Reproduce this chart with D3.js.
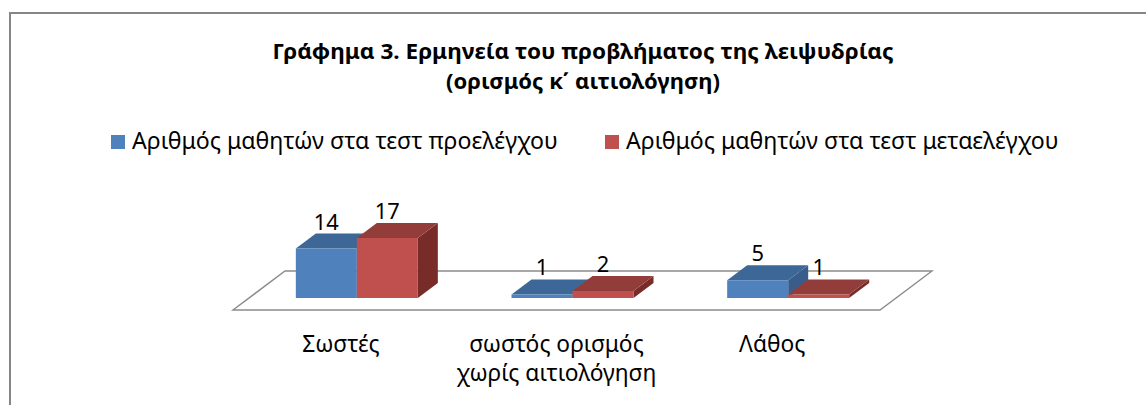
<!DOCTYPE html>
<html><head><meta charset="utf-8">
<script src="https://cdn.jsdelivr.net/npm/d3@7"></script>
<style>body{margin:0;background:#fff} svg{display:block}</style>
</head><body><svg id="c" width="1146" height="405"></svg>
<script>
// ---- data ----
const categories = ["Σωστές", "σωστός ορισμός\nχωρίς αιτιολόγηση", "Λάθος"];
const seriesNames = ["Αριθμός μαθητών στα τεστ προελέγχου", "Αριθμός μαθητών στα τεστ μεταελέγχου"];
const preTest = [14, 1, 5];
const postTest = [17, 2, 1];
const titleLines = ["Γράφημα 3. Ερμηνεία του προβλήματος της λειψυδρίας", "(ορισμός κ΄ αιτιολόγηση)"];

// ---- styles ----
const palette = [
  {front: "#4F81BD", top: "#3D6796", side: "#385D8A"},
  {front: "#C0504D", top: "#933D3B", side: "#772C2A"}
];
const FONT = "'Noto Sans', 'DejaVu Sans', sans-serif";
const svg = d3.select("#c");

function fitSize(text, target, weight) {
  const t = svg.append("text").attr("font-family", FONT).attr("font-weight", weight || "normal")
    .style("font-size", "100px").text(text);
  const w = t.node().getComputedTextLength();
  t.remove();
  return 100 * target / w;
}

// chart border
svg.append("rect").attr("x", 10).attr("y", 13).attr("width", 1160).attr("height", 420)
  .attr("fill", "#fff").attr("stroke", "#868686").attr("stroke-width", 2);

// title
const titleW = [621, 274], titleY = [59, 89];
svg.selectAll("text.title").data(titleLines).join("text").attr("class", "title")
  .attr("x", 583).attr("y", (d, i) => titleY[i])
  .attr("text-anchor", "middle").attr("font-family", FONT).attr("font-weight", "bold")
  .style("font-size", "21.5px").attr("fill", "#000")
  .attr("textLength", (d, i) => titleW[i]).attr("lengthAdjust", "spacingAndGlyphs")
  .text(d => d);

// legend
const legSize = fitSize(seriesNames[0], 426);
const legX = [111, 605];
const leg = svg.selectAll("g.leg").data(seriesNames).join("g").attr("class", "leg")
  .attr("transform", (d, i) => `translate(${legX[i]},0)`);
leg.append("rect").attr("x", 0).attr("y", 135).attr("width", 14).attr("height", 14)
  .attr("fill", (d, i) => palette[i].front);
leg.append("text").attr("x", 21).attr("y", 148.5).attr("font-family", FONT)
  .style("font-size", legSize + "px").attr("fill", "#000").text(d => d);

// ---- 3D geometry ----
const frontY = 310, floorDepth = 39, skew = 52 / 39;
const zFront = 12, zBack = 27;
const x = d3.scaleBand().domain(categories).range([233, 880]);
const groupW = 122;
const inner = d3.scaleBand().domain([0, 1]).range([0, groupW]);
const h = d3.scaleLinear().domain([0, 17]).range([0, 60]);
const proj = (px, z, ht) => [px + z * skew, frontY - z - ht];
const pts = arr => arr.map(p => proj(...p).join(",")).join(" ");

// floor
const [fx0, fx1] = x.range();
svg.append("polygon")
  .attr("points", pts([[fx0, 0, 0], [fx1, 0, 0], [fx1, floorDepth, 0], [fx0, floorDepth, 0]]))
  .attr("fill", "none").attr("stroke", "#8C8C8C").attr("stroke-width", 1.4);

// bars
const series = [preTest, postTest];
const bars = [];
categories.forEach((c, ci) => {
  series.forEach((vals, si) => {
    const x0 = x(c) + (x.bandwidth() - groupW) / 2 + inner(si);
    bars.push({x0, x1: x0 + inner.bandwidth(), v: vals[ci], si});
  });
});
bars.forEach(b => {
  const ht = h(b.v);
  const g = svg.append("g");
  g.append("polygon").attr("points", pts([[b.x1, zFront, 0], [b.x1, zBack, 0], [b.x1, zBack, ht], [b.x1, zFront, ht]]))
    .attr("fill", palette[b.si].side);
  g.append("polygon").attr("points", pts([[b.x0, zFront, ht], [b.x1, zFront, ht], [b.x1, zBack, ht], [b.x0, zBack, ht]]))
    .attr("fill", palette[b.si].top);
  g.append("polygon").attr("points", pts([[b.x0, zFront, 0], [b.x1, zFront, 0], [b.x1, zFront, ht], [b.x0, zFront, ht]]))
    .attr("fill", palette[b.si].front);
});

// data labels
const lblSize = fitSize("14", 25);
svg.selectAll("text.val").data(bars).join("text").attr("class", "val")
  .attr("x", b => proj((b.x0 + b.x1) / 2, zFront, 0)[0])
  .attr("y", b => proj(b.x0, zBack, h(b.v))[1] - 4)
  .attr("text-anchor", "middle").attr("font-family", FONT)
  .style("font-size", lblSize + "px").attr("fill", "#000").text(b => b.v);

// category labels (centred under the floor's front edge bands), one text per line
const catSize = fitSize("χωρίς αιτιολόγηση", 200);
const catLines = categories.flatMap(c => c.split("\n").map((s, i) => ({c, s, i})));
svg.selectAll("text.cat").data(catLines).join("text").attr("class", "cat")
  .attr("x", t => x(t.c) + x.bandwidth() / 2).attr("y", t => 351.5 + t.i * 29)
  .attr("text-anchor", "middle").attr("font-family", FONT)
  .style("font-size", catSize + "px").attr("fill", "#000").text(t => t.s);
</script>
</body></html>
